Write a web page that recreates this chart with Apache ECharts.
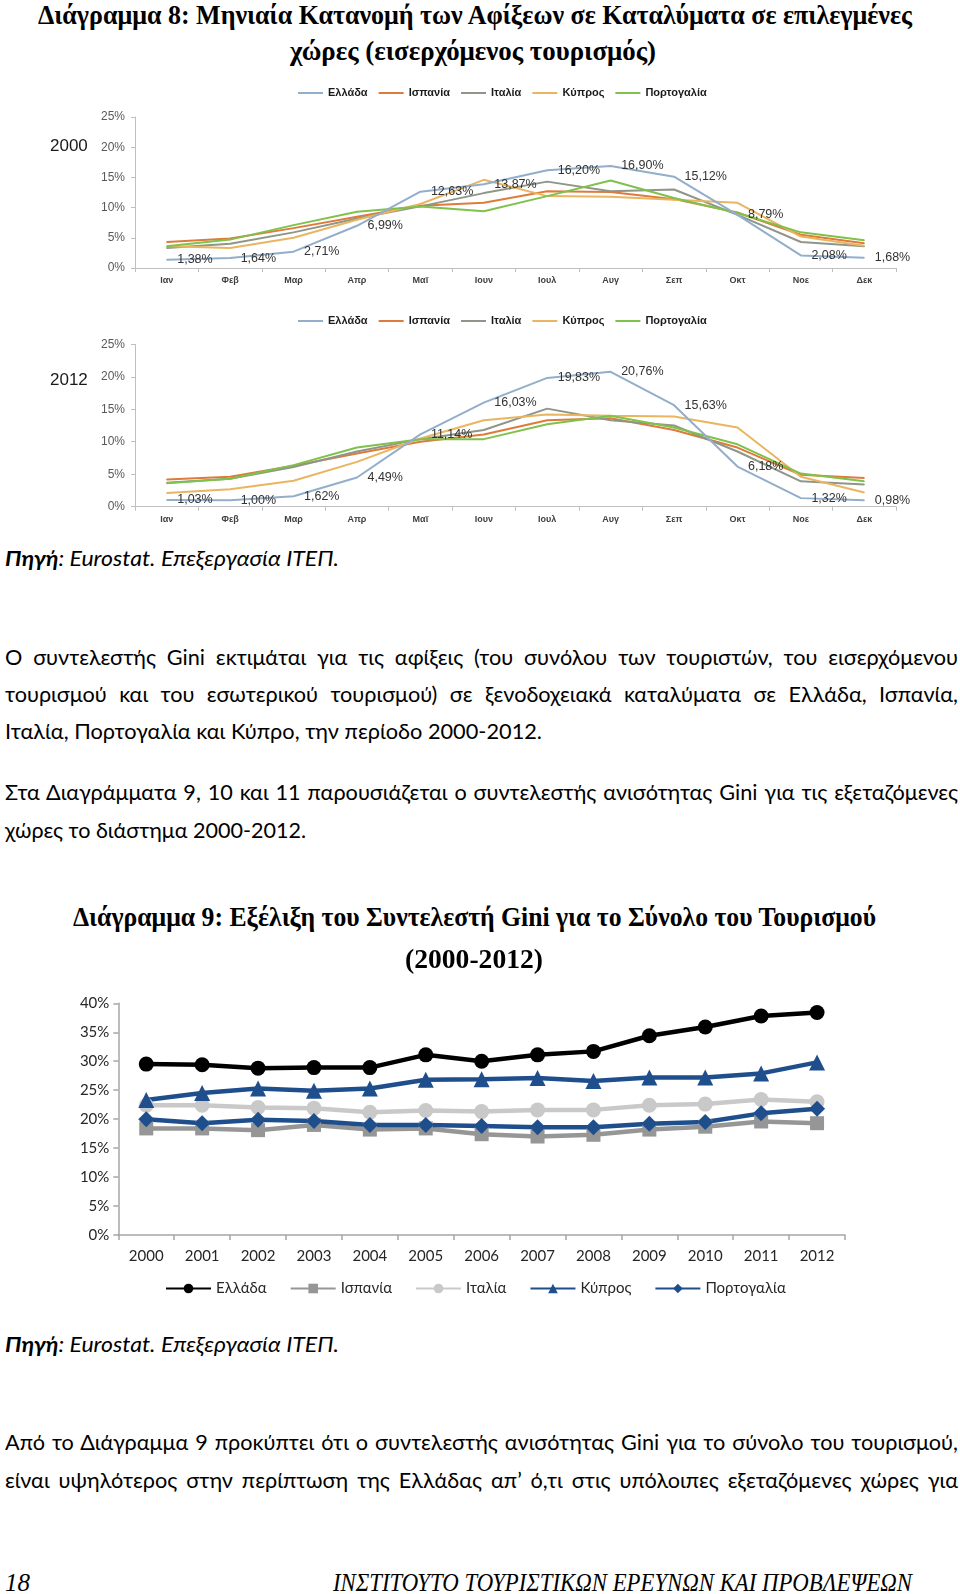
<!DOCTYPE html>
<html><head><meta charset="utf-8">
<script src="https://cdn.jsdelivr.net/npm/echarts@6/dist/echarts.min.js"></script>
<style>
html,body{margin:0;padding:0;background:#fff;width:960px;height:1594px;overflow:hidden;position:relative}
.ch{position:absolute;left:0;width:960px}
.ln{position:absolute;white-space:nowrap;transform-origin:left center;color:#000}
</style></head><body>
<div id="c2000" class="ch" style="top:75px;height:225px"></div>
<div id="c2012" class="ch" style="top:300px;height:230px"></div>
<div id="cgini" class="ch" style="top:965px;height:345px"></div>
<div id="txt"></div>
<script>
// ---------- DATA ----------
const months = ['Ιαν','Φεβ','Μαρ','Απρ','Μαϊ','Ιουν','Ιουλ','Αυγ','Σεπ','Οκτ','Νοε','Δεκ'];
const countries = ['Ελλάδα','Ισπανία','Ιταλία','Κύπρος','Πορτογαλία'];

const gr2000 = [1.38,1.64,2.71,6.99,12.63,13.87,16.20,16.90,15.12,8.79,2.08,1.68];
const es2000 = [4.3,4.9,6.6,8.5,10.3,10.8,12.7,12.6,11.4,9.2,5.5,4.1];
const it2000 = [3.3,4.0,5.9,8.2,10.2,12.4,14.3,12.7,13.0,8.8,4.3,3.6];
const cy2000 = [3.6,3.3,5.0,8.0,10.6,14.6,11.9,11.8,11.3,10.8,5.2,3.7];
const pt2000 = [3.6,4.7,7.1,9.3,10.2,9.4,11.9,14.5,11.6,9.1,5.9,4.6];

const gr2012 = [1.03,1.00,1.62,4.49,11.14,16.03,19.83,20.76,15.63,6.18,1.32,0.98];
const es2012 = [4.2,4.6,6.3,8.2,10.0,11.1,13.3,13.6,11.8,9.1,4.9,4.4];
const it2012 = [3.7,4.3,6.1,8.5,10.4,11.8,15.1,13.3,12.5,8.5,3.9,3.4];
const cy2012 = [2.1,2.7,4.0,6.9,10.5,13.3,14.2,14.0,13.9,12.2,4.6,2.2];
const pt2012 = [3.6,4.3,6.4,9.1,10.4,10.4,12.7,14.0,12.2,9.6,5.1,3.9];

const years = ['2000','2001','2002','2003','2004','2005','2006','2007','2008','2009','2010','2011','2012'];
const giniGR = [29.5,29.4,28.8,28.9,28.9,31.1,30.0,31.1,31.7,34.4,35.9,37.8,38.4];
const giniES = [18.4,18.4,18.1,19.0,18.2,18.4,17.4,17.0,17.3,18.2,18.7,19.6,19.3];
const giniIT = [22.4,22.4,22.0,21.9,21.2,21.5,21.3,21.6,21.6,22.4,22.6,23.4,23.0];
const giniCY = [23.3,24.5,25.3,24.9,25.3,26.8,26.9,27.1,26.6,27.2,27.2,27.9,29.8];
const giniPT = [20.0,19.3,19.9,19.7,19.0,19.0,18.8,18.6,18.6,19.2,19.5,21.0,21.8];

const yTicksMonthly = [0,25,5];
const yTicksGini = [0,40,5];

// ---------- TEXT ----------
const TITLE = 'bold 27px "Liberation Serif", serif';
const BODY = '21px Lato, "Open Sans", sans-serif';
const SRC = 'italic 21px Lato, "Open Sans", sans-serif';
const FOOT = 'italic 26px "Liberation Serif", serif';
const lines = [
  {h:'Διάγραμμα 8: Μηνιαία Κατανομή των Αφίξεων σε Καταλύματα σε επιλεγμένες', f:TITLE, x:38, w:874, y:15},
  {h:'χώρες (εισερχόμενος τουρισμός)', f:TITLE, x:290, w:366, y:51},
  {h:'<b>Πηγή</b>: Eurostat. Επεξεργασία ΙΤΕΠ.', f:SRC, x:5, w:334, y:557},
  {h:'Ο συντελεστής Gini εκτιμάται για τις αφίξεις (του συνόλου των τουριστών, του εισερχόμενου', f:BODY, x:5, w:953, y:656, j:1},
  {h:'τουρισμού και του εσωτερικού τουρισμού) σε ξενοδοχειακά καταλύματα σε Ελλάδα, Ισπανία,', f:BODY, x:5, w:953, y:693.5, j:1},
  {h:'Ιταλία, Πορτογαλία και Κύπρο, την περίοδο 2000-2012.', f:BODY, x:5, w:537, y:730, ref:1},
  {h:'Στα Διαγράμματα 9, 10 και 11 παρουσιάζεται ο συντελεστής ανισότητας Gini για τις εξεταζόμενες', f:BODY, x:5, w:953, y:791, j:1},
  {h:'χώρες το διάστημα 2000-2012.', f:BODY, x:5, w:301, y:829, ref:1},
  {h:'Διάγραμμα 9: Εξέλιξη του Συντελεστή Gini για το Σύνολο του Τουρισμού', f:TITLE, x:73, w:803, y:917},
  {h:'(2000-2012)', f:TITLE, x:405, w:138, y:959},
  {h:'<b>Πηγή</b>: Eurostat. Επεξεργασία ΙΤΕΠ.', f:SRC, x:5, w:334, y:1343},
  {h:'Από το Διάγραμμα 9 προκύπτει ότι ο συντελεστής ανισότητας Gini για το σύνολο του τουρισμού,', f:BODY, x:5, w:953, y:1441, j:1},
  {h:'είναι υψηλότερος στην περίπτωση της Ελλάδας απ’ ό,τι στις υπόλοιπες εξεταζόμενες χώρες για', f:BODY, x:5, w:953, y:1479, j:1},
  {h:'18', f:FOOT, x:5, w:25, y:1583},
  {h:'ΙΝΣΤΙΤΟΥΤΟ ΤΟΥΡΙΣΤΙΚΩΝ ΕΡΕΥΝΩΝ ΚΑΙ ΠΡΟΒΛΕΨΕΩΝ', f:FOOT, x:333, w:579, y:1583}
];

(function placeText(){
  const host = document.getElementById('txt');
  const els = lines.map(L => {
    const d = document.createElement('div');
    d.className = 'ln';
    d.style.font = L.f;
    const fs = parseFloat(L.f.match(/([\d.]+)px/)[1]);
    const lh = Math.round(fs * 1.3);
    d.style.lineHeight = lh + 'px';
    d.style.left = L.x + 'px';
    d.style.top = (L.y - lh / 2) + 'px';
    d.innerHTML = L.h;
    host.appendChild(d);
    return d;
  });
  let sSum = 0, sN = 0;
  lines.forEach((L, i) => {
    if (L.j) return;
    const nat = els[i].getBoundingClientRect().width;
    const s = L.w / nat;
    els[i].style.transform = 'scaleX(' + s + ')';
    if (L.ref) { sSum += s; sN++; }
  });
  const bs = sN ? sSum / sN : 1;
  lines.forEach((L, i) => {
    if (!L.j) return;
    const d = els[i];
    d.style.whiteSpace = 'normal';
    d.style.width = (L.w / bs) + 'px';
    d.style.textAlign = 'justify';
    d.style.textAlignLast = 'justify';
    d.style.transform = 'scaleX(' + bs + ')';
  });
})();

// ---------- CHARTS ----------
const monthColors = ['#93AECB','#DE7B3B','#8F9689','#E9B560','#7FC24B'];
const pct = v => v.toFixed(2).replace('.', ',') + '%';

function monthChart(id, year, sets, gridTop, gridH, legendTop, yearY) {
  const ch = echarts.init(document.getElementById(id));
  ch.setOption({
    animation: false,
    textStyle: {fontFamily: '"Liberation Sans", Arial, sans-serif'},
    legend: {left: 293, top: legendTop, icon: 'rect', itemWidth: 25, itemHeight: 2, itemGap: 11,
      textStyle: {fontSize: 11, color: '#1a1a1a', fontWeight: 'bold'}, data: countries},
    grid: {left: 135, top: gridTop, width: 761, height: gridH},
    xAxis: {type: 'category', data: months, boundaryGap: true,
      axisLine: {lineStyle: {color: '#BFBFBF'}},
      axisTick: {show: true, length: 4, lineStyle: {color: '#BFBFBF'}},
      axisLabel: {fontSize: 9, fontWeight: 'bold', color: '#404040', margin: 8}},
    yAxis: {type: 'value', min: yTicksMonthly[0], max: yTicksMonthly[1], interval: yTicksMonthly[2],
      axisLine: {show: true, lineStyle: {color: '#BFBFBF'}},
      axisTick: {show: true, length: 4, lineStyle: {color: '#BFBFBF'}},
      splitLine: {show: false},
      axisLabel: {formatter: '{value}%', fontSize: 12, color: '#595959', margin: 10}},
    graphic: [{type: 'text', left: 50, top: yearY - 9,
      style: {text: year, font: '17px "Liberation Sans", Arial, sans-serif', fill: '#1a1a1a'}}],
    series: sets.map((d, i) => ({
      name: countries[i], type: 'line', data: d, symbol: 'circle', symbolSize: 1, showSymbol: true,
      lineStyle: {width: 2, color: monthColors[i]}, itemStyle: {color: monthColors[i]},
      z: i === 0 ? 5 : 2,
      label: i === 0 ? {show: true, position: 'right', distance: 10, fontSize: 12.5, color: '#333333',
        formatter: p => pct(p.value)} : {show: false}
    }))
  });
}
monthChart('c2000', '2000', [gr2000, es2000, it2000, cy2000, pt2000], 42, 151, 7.5, 72);
monthChart('c2012', '2012', [gr2012, es2012, it2012, cy2012, pt2012], 44.3, 162.4, 10.5, 81);

(function(){
  const ch = echarts.init(document.getElementById('cgini'));
  const defs = [
    {d: giniGR, c: '#000000', s: 'circle', z: 15},
    {d: giniES, c: '#969696', s: 'rect', z: 14},
    {d: giniIT, c: '#C9C9C9', s: 'circle', z: 15},
    {d: giniCY, c: '#1F4E8C', s: 'triangle', z: 16},
    {d: giniPT, c: '#1F4E8C', s: 'diamond', z: 16}
  ];
  ch.setOption({
    animation: false,
    textStyle: {fontFamily: 'Lato, "Open Sans", sans-serif'},
    legend: {left: 160, top: 311, itemWidth: 45, itemHeight: 12, itemGap: 23,
      textStyle: {fontSize: 15, color: '#262626'}, data: countries},
    grid: {left: 118.3, top: 38.3, width: 726.7, height: 231.7},
    xAxis: {type: 'category', data: years, boundaryGap: true,
      axisLine: {lineStyle: {color: '#A6A6A6', width: 1.5}},
      axisTick: {show: true, length: 5, lineStyle: {color: '#A6A6A6', width: 1.5}},
      axisLabel: {fontSize: 15, color: '#262626', margin: 14}},
    yAxis: {type: 'value', min: yTicksGini[0], max: yTicksGini[1], interval: yTicksGini[2],
      axisLine: {show: true, lineStyle: {color: '#A6A6A6', width: 1.5}},
      axisTick: {show: true, length: 5, lineStyle: {color: '#A6A6A6', width: 1.5}},
      splitLine: {show: false},
      axisLabel: {formatter: '{value}%', fontSize: 15, color: '#262626', margin: 9}},
    series: defs.map((o, i) => ({
      name: countries[i], type: 'line', data: o.d, symbol: o.s, symbolSize: o.z,
      lineStyle: {width: 4.5, color: o.c}, itemStyle: {color: o.c}
    }))
  });
})();
</script>
</body></html>
